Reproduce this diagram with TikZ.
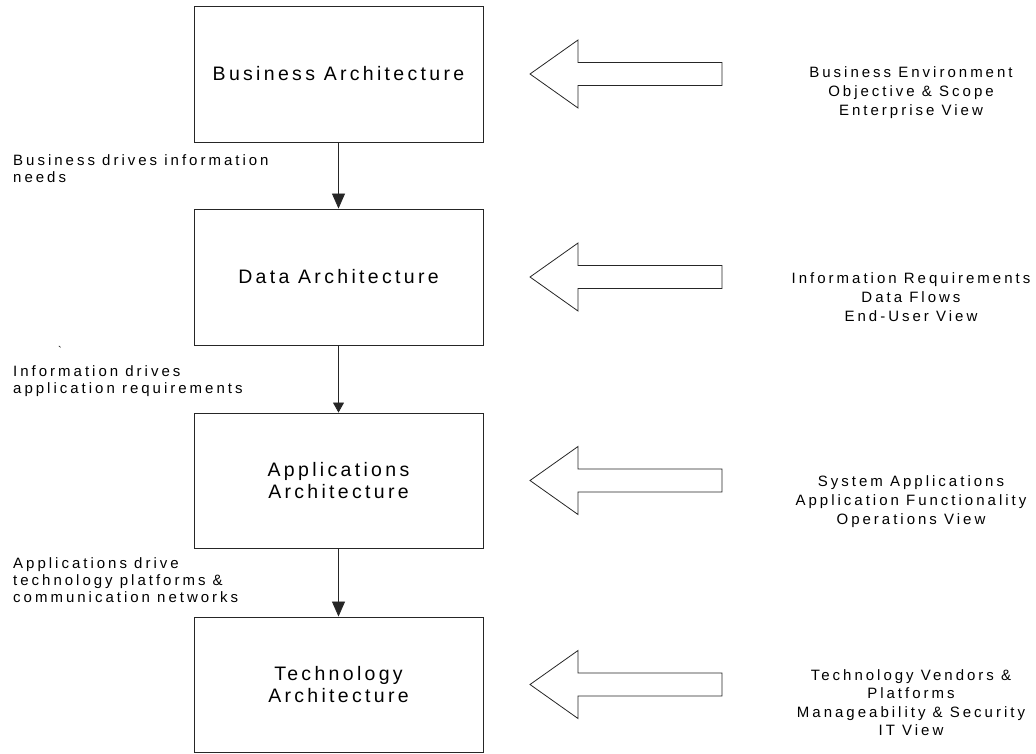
\documentclass[tikz,border=0pt]{standalone}
\usepackage{fontspec}
\setmainfont{Liberation Sans}[LetterSpace=17]
\newfontfamily\labelfont{Liberation Sans}[LetterSpace=20]
\usetikzlibrary{arrows.meta}
\begin{document}
\begin{tikzpicture}[x=1pt,y=-1pt,
  layer/.style={draw=black!85, line width=0.9pt, minimum width=289pt,
    minimum height=136pt, inner sep=0pt, align=center,
    font=\fontsize{19.5}{22}\selectfont},
  note/.style={inner sep=0pt, align=left, font=\labelfont\fontsize{15}{17}\selectfont},
  view/.style={inner sep=0pt, align=center, font=\labelfont\fontsize{15}{19}\selectfont},
  drive/.style={draw=black!85, line width=0.8pt,
    -{Triangle[width=13pt,length=15pt]}},
  feed/.style={draw=black!85, line width=0.8pt, fill=white, line join=miter}
]
\useasboundingbox (0,0) rectangle (1036,753);

% the four architecture layers
\node[layer] (bus) at (338.5,74) {Business Architecture};
\node[layer] (dat) at (338.5,277) {Data Architecture};
\node[layer, minimum height=135pt] (app) at (338.5,480.5) {Applications\\Architecture};
\node[layer, minimum height=135pt] (tec) at (338.5,684.5) {Technology\\Architecture};

% each layer drives the next one
\draw[drive] (bus) -- (dat);
\draw[drive, -{Triangle[width=11pt,length=10pt]}] (dat) -- (app);
\draw[drive] (app) -- (tec);

% hollow input arrows pointing at each layer
\foreach \n in {bus,dat,app,tec}
  \draw[feed] (530,0 |- \n.center) -- ++(48,-34) -- ++(0,22.5) -- ++(144,0)
    -- ++(0,23) -- ++(-144,0) -- ++(0,22.5) -- cycle;

% notes on the left
\node[note, anchor=north west] (n1) at (13,154.5) {Business drives information\\needs};
\node[note, anchor=north west] (n2) at (13,365.5) {Information drives\\application requirements};
\node[note, anchor=north west] (n3) at (13,557.5) {Applications drive\\technology platforms \&\\communication networks};
\node[inner sep=0pt, font=\fontsize{11}{11}\selectfont] (tick) at (60,350) {\textasciigrave};

% views on the right
\node[view, anchor=north] (v1) at (911,66.5) {Business Environment\\Objective \& Scope\\Enterprise View};
\node[view, anchor=north] (v2) at (911,272) {Information Requirements\\Data Flows\\End-User View};
\node[view, anchor=north] (v3) at (911,475) {System Applications\\Application Functionality\\Operations View};
\node[view, anchor=north, font=\labelfont\fontsize{15}{18.5}\selectfont] (v4) at (911,669) {Technology Vendors \&\\Platforms\\Manageability \& Security\\IT View};
\end{tikzpicture}
\end{document}
